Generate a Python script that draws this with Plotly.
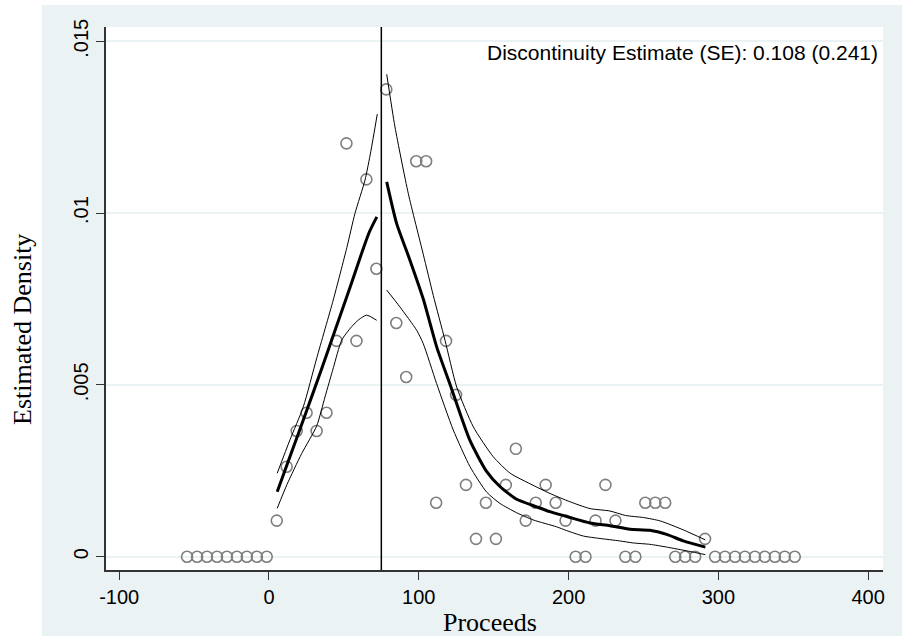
import plotly.graph_objects as go

# ---- data ----
bin_x = [-54.7, -48.0, -41.4, -34.7, -28.1, -21.4, -14.8, -8.1, -1.5, 5.2,
         11.8, 18.5, 25.1, 31.8, 38.4, 45.1, 51.7, 58.4, 65.0, 71.7,
         78.3, 85.0, 91.6, 98.3, 104.9, 111.6, 118.2, 124.9, 131.5, 138.2,
         144.8, 151.5, 158.1, 164.8, 171.4, 178.1, 184.7, 191.4, 198.0, 204.7,
         211.3, 218.0, 224.6, 231.3, 237.9, 244.6, 251.2, 257.9, 264.5, 271.2,
         277.8, 284.5, 291.1, 297.8, 304.4, 311.1, 317.7, 324.4, 331.0, 337.7,
         344.3, 351.0]
bin_density = [0, 0, 0, 0, 0, 0, 0, 0, 0, 0.00105,
               0.00262, 0.00366, 0.00419, 0.00366, 0.00419, 0.00628, 0.01203, 0.00628, 0.01098, 0.00838,
               0.0136, 0.0068, 0.00523, 0.01151, 0.01151, 0.00157, 0.00628, 0.00471, 0.00209, 0.00052,
               0.00157, 0.00052, 0.00209, 0.00314, 0.00105, 0.00157, 0.00209, 0.00157, 0.00105, 0,
               0, 0.00105, 0.00209, 0.00105, 0, 0, 0.00157, 0.00157, 0.00157, 0,
               0, 0, 0.00052, 0, 0, 0, 0, 0, 0, 0,
               0, 0]

left_x = [5.5, 15.0, 25.0, 35.0, 45.0, 55.0, 62.0, 67.0, 72.0]
left_fit = [0.00189, 0.00303, 0.00423, 0.00545, 0.0067, 0.00795, 0.00885, 0.00945, 0.00989]
left_up_x = [5.5, 14.0, 22.9, 32.0, 42.9, 52.0, 57.4, 64.1, 68.0, 72.3]
left_up = [0.00243, 0.0034, 0.00436, 0.0058, 0.00747, 0.0090, 0.00999, 0.01096, 0.0118, 0.01288]
left_lo_x = [5.5, 12.0, 21.8, 31.8, 37.4, 43.0, 48.5, 55.1, 60.0, 65.2, 71.9]
left_lo = [0.00141, 0.0021, 0.0030, 0.0038, 0.00465, 0.0055, 0.0063, 0.00669, 0.0069, 0.00703, 0.00688]

right_x = [78.6, 85.2, 94.1, 103.0, 112.0, 121.0, 134.0, 145.0, 154.0, 165.0,
           178.8, 187.6, 200.9, 214.3, 227.6, 241.0, 254.3, 265.5, 276.6, 291.3]
right_fit = [0.01091, 0.0097, 0.00863, 0.0075, 0.0061, 0.0050, 0.0034, 0.0025, 0.00205, 0.00168,
             0.00145, 0.00131, 0.00114, 0.00098, 0.0009, 0.0008, 0.00077, 0.00065, 0.00046, 0.00028]
right_up_x = [78.6, 84.1, 93.0, 103.0, 109.7, 117.5, 125.3, 136.4, 149.7, 161.0,
              174.4, 187.6, 200.9, 214.3, 227.6, 238.0, 250.0, 261.3, 276.6, 291.3]
right_up = [0.01404, 0.01251, 0.01057, 0.0088, 0.0076, 0.0063, 0.00494, 0.00378, 0.00291, 0.00243,
            0.00212, 0.00184, 0.0016, 0.0014, 0.00133, 0.0012, 0.00114, 0.00104, 0.00078, 0.00049]
right_lo_x = [78.6, 87.4, 98.6, 103.0, 111.9, 123.0, 134.2, 145.3, 154.2, 165.3,
              176.4, 192.0, 198.7, 210.0, 221.0, 234.0, 243.2, 254.3, 265.5, 280.0, 291.3]
right_lo = [0.00776, 0.00727, 0.00659, 0.0062, 0.00504, 0.00369, 0.00262, 0.00188, 0.00155, 0.00128,
            0.00107, 0.00087, 0.00076, 0.0006, 0.00053, 0.00046, 0.0004, 0.00036, 0.00028, 0.00016, 0.00006]

cutoff = 75
x_ticks = [-100, 0, 100, 200, 300, 400]
x_tick_text = ["-100", "0", "100", "200", "300", "400"]
y_ticks = [0, 0.005, 0.01, 0.015]
y_tick_text = ["0", ".005", ".01", ".015"]
note = "Discontinuity Estimate (SE): 0.108 (0.241)"

# ---- figure ----
fig = go.Figure()
fig.add_trace(go.Scatter(x=bin_x, y=bin_density, mode="markers",
                         marker=dict(symbol="circle-open", size=11, color="#7f7f7f",
                                     line=dict(width=1.6, color="#7f7f7f")),
                         showlegend=False, hoverinfo="skip"))
for xs, ys, w in [(left_up_x, left_up, 1), (left_lo_x, left_lo, 1), (left_x, left_fit, 3),
                  (right_up_x, right_up, 1), (right_lo_x, right_lo, 1), (right_x, right_fit, 3)]:
    fig.add_trace(go.Scatter(x=xs, y=ys, mode="lines",
                             line=dict(color="black", width=w, shape="spline", smoothing=0.6),
                             showlegend=False, hoverinfo="skip"))

fig.add_shape(type="line", xref="x", yref="paper", x0=cutoff, x1=cutoff, y0=0, y1=1,
              line=dict(color="black", width=1.5))

bg = "#EAF2F3"
# white strips left and top outside the graph region
fig.add_shape(type="rect", xref="paper", yref="paper", x0=-0.2, x1=(42 - 106) / 777, y0=-0.2, y1=1.2,
              fillcolor="white", line=dict(width=0), layer="below")
fig.add_shape(type="rect", xref="paper", yref="paper", x0=-0.2, x1=1.2, y0=(570 - 5) / 543, y1=1.2,
              fillcolor="white", line=dict(width=0), layer="below")

fig.add_annotation(text=note, xref="paper", yref="paper", x=(880 - 106) / 777, y=(570 - 53) / 543,
                   xanchor="right", yanchor="middle", showarrow=False,
                   font=dict(family="Liberation Sans, Arial", size=21, color="black"))
fig.add_annotation(text="Estimated Density", xref="paper", yref="paper", x=(22 - 106) / 777,
                   y=(570 - 330) / 543, textangle=-90, xanchor="center", yanchor="middle", showarrow=False,
                   font=dict(family="Liberation Serif, Times New Roman", size=26, color="black"))
fig.add_annotation(text="Proceeds", xref="paper", yref="paper", x=(490 - 106) / 777,
                   y=(570 - 622) / 543, xanchor="center", yanchor="middle", showarrow=False,
                   font=dict(family="Liberation Serif, Times New Roman", size=26, color="black"))

fig.update_layout(
    width=902, height=636,
    margin=dict(l=106, r=19, t=27, b=66),
    paper_bgcolor=bg, plot_bgcolor="white",
    font=dict(family="Liberation Sans, Arial", size=20, color="black"),
    xaxis=dict(range=[-108.8, 409.9], tickvals=x_ticks, ticktext=x_tick_text, ticks="outside",
               ticklen=8, tickwidth=1.2, tickcolor="#333333", showline=True, linecolor="#333333",
               linewidth=1.5, showgrid=False, zeroline=False, tickfont=dict(size=20)),
    yaxis=dict(range=[-0.000387, 0.015416], tickvals=y_ticks, ticktext=y_tick_text, tickangle=-90,
               ticks="outside", ticklen=8, tickwidth=1.2, tickcolor="#333333",
               showline=True, linecolor="#333333", linewidth=1.5,
               showgrid=True, gridcolor=bg, gridwidth=1.5, zeroline=False, tickfont=dict(size=20)),
)

fig.write_html("out.html", config={"displayModeBar": False},
               post_script="document.body.style.margin='0px';document.body.style.padding='0px';")
